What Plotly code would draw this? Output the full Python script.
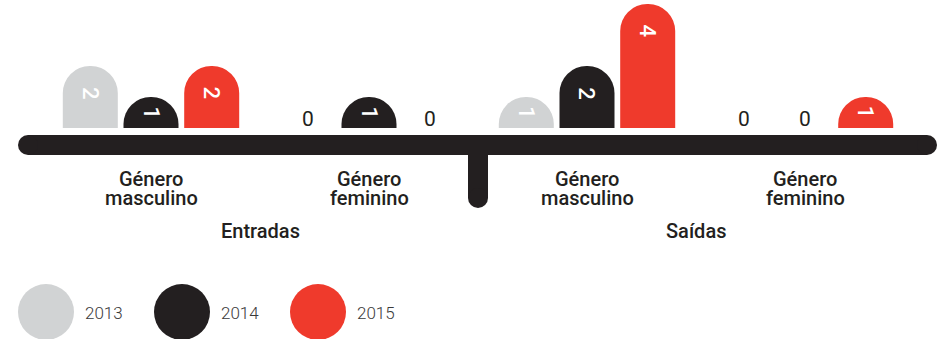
import plotly.graph_objects as go

# data
groups = ["Género masculino", "Género feminino", "Género masculino", "Género feminino"]
sections = ["Entradas", "Saídas"]
years = ["2013", "2014", "2015"]
v2013 = [2, 0, 1, 0]
v2014 = [1, 1, 2, 0]
v2015 = [2, 0, 4, 1]
series = [v2013, v2014, v2015]
colors = ["#d1d3d4", "#231f20", "#ef3a2c"]

W, H = 939, 339
GROUP_PX = 218          # distance between group centres
SLOT = 60.7 / GROUP_PX  # distance between bars in a group
BAR_W = 55 / GROUP_PX
PX_PER_UNIT = 31
BASE_PX = 128           # pixel row of y=0
FIRST_PX = 151          # pixel column of first group


def px(x):
    return x / W


def py(y):
    return 1 - y / H


fig = go.Figure()
annotations = []

for k, (year, vals, col) in enumerate(zip(years, series, colors)):
    xs = [g + (k - 1) * SLOT for g in range(len(groups))]
    fig.add_trace(go.Bar(
        x=xs, y=vals, width=BAR_W, name=year,
        marker=dict(color=col, cornerradius="50%", line=dict(width=0)),
        hoverinfo="skip",
    ))
    for x, v in zip(xs, vals):
        if v > 0:
            annotations.append(dict(
                x=x, y=max(v - 0.88, v / 2), text=str(v), textangle=90,
                showarrow=False, xanchor="center", yanchor="middle",
                font=dict(family="Roboto", size=22, color="white", weight=500),
            ))
        else:
            annotations.append(dict(
                x=x, y=0.3, text="0", showarrow=False,
                xanchor="center", yanchor="middle",
                font=dict(family="Roboto", size=21, color="#231f20"),
            ))

# group labels
lab_font = dict(family="Roboto", size=20, color="#231f20", weight=500)
for g, name in enumerate(groups):
    first, second = name.split(" ")
    for text, shift in [(first, -51), (second, -70)]:
        annotations.append(dict(
            x=g, y=0, yshift=shift, text=text, showarrow=False,
            xanchor="center", yanchor="middle", font=lab_font,
        ))
for s, name in enumerate(sections):
    annotations.append(dict(
        x=2 * s + 0.5, y=0, yshift=-103, text=name, showarrow=False,
        xanchor="center", yanchor="middle", font=lab_font,
    ))

# legend
for k, (year, col) in enumerate(zip(years, colors)):
    cx = 46 + 136 * k
    fig.add_shape(type="circle", xref="paper", yref="paper",
                  x0=px(cx - 28), x1=px(cx + 28), y0=py(312 - 28), y1=py(312 + 28),
                  fillcolor=col, line=dict(width=0))
    annotations.append(dict(
        xref="paper", yref="paper", x=px(cx + 37), y=py(313), text=year,
        showarrow=False, xanchor="left", yanchor="middle",
        font=dict(family="Roboto", size=17, color="#3a3a3a", weight=300),
    ))

# baseline with rounded ends and central stem
dark = "#231f20"
fig.add_shape(type="rect", xref="paper", yref="paper", layer="below",
              x0=px(28), x1=px(927), y0=py(135), y1=py(155),
              fillcolor=dark, line=dict(width=0))
for cx in (28, 927):
    fig.add_shape(type="circle", xref="paper", yref="paper", layer="below",
                  x0=px(cx - 10), x1=px(cx + 10), y0=py(135), y1=py(155),
                  fillcolor=dark, line=dict(width=0))
fig.add_shape(type="rect", xref="paper", yref="paper", layer="below",
              x0=px(468), x1=px(488), y0=py(145), y1=py(198),
              fillcolor=dark, line=dict(width=0))
fig.add_shape(type="circle", xref="paper", yref="paper", layer="below",
              x0=px(468), x1=px(488), y0=py(188), y1=py(208),
              fillcolor=dark, line=dict(width=0))

fig.update_layout(
    width=W, height=H,
    margin=dict(l=0, r=0, t=0, b=0),
    paper_bgcolor="white", plot_bgcolor="white",
    barmode="overlay", showlegend=False,
    xaxis=dict(visible=False, range=[-FIRST_PX / GROUP_PX, (W - FIRST_PX) / GROUP_PX]),
    yaxis=dict(visible=False, range=[-(H - BASE_PX) / PX_PER_UNIT, BASE_PX / PX_PER_UNIT]),
    annotations=annotations,
)

# drop the default page margin so the chart fills the window
fig.write_html("out.html", config=dict(displayModeBar=False),
               post_script="document.body.style.margin = '0px';")
